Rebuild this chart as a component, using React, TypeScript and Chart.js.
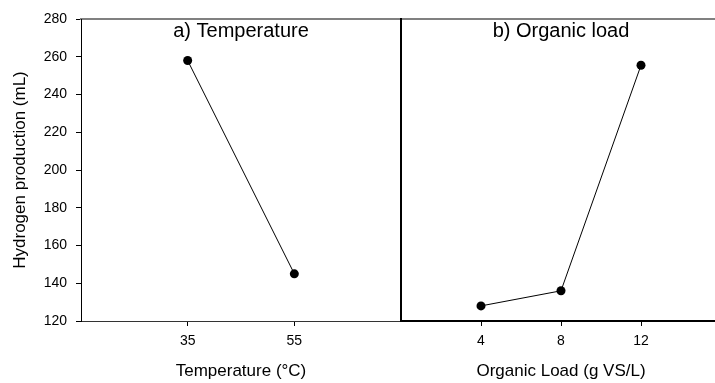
import React, { useEffect, useRef } from "react";
import { Chart, registerables } from "chart.js";

Chart.register(...registerables);

// ---- data ----
const yTicks = [120, 140, 160, 180, 200, 220, 240, 260, 280];
const tempCategories = [35, 55];
const tempValues = [258, 145];
const loadCategories = [4, 8, 12];
const loadValues = [128, 136, 255.5];

const FONT = "'Liberation Sans', Arial, Helvetica, sans-serif";

function panelTitlePlugin(text: string) {
  return {
    id: "panelTitle",
    afterDraw(chart: any) {
      const { ctx, chartArea } = chart;
      ctx.save();
      ctx.font = `20px ${FONT}`;
      ctx.fillStyle = "#000";
      ctx.textAlign = "center";
      ctx.textBaseline = "alphabetic";
      ctx.fillText(text, (chartArea.left + chartArea.right) / 2, 37);
      ctx.restore();
    },
  };
}

function makeConfig(opts: {
  xs: number[];
  ys: number[];
  xMin: number;
  xMax: number;
  xTitle: string;
  panel: string;
  left: boolean;
}): any {
  const { xs, ys, xMin, xMax, xTitle, panel, left } = opts;
  const yScale: any = left
    ? {
        type: "linear",
        position: "left",
        min: 120,
        max: 280,
        afterBuildTicks: (s: any) => {
          s.ticks = yTicks.map((v) => ({ value: v }));
        },
        ticks: { font: { family: FONT, size: 14 }, color: "#000", padding: 9 },
        grid: { drawOnChartArea: false, drawTicks: true, tickLength: 5, tickColor: "#000", tickWidth: 1 },
        border: { display: true, color: "#000", width: 1 },
        title: {
          display: true,
          text: "Hydrogen production (mL)",
          font: { family: FONT, size: 17 },
          color: "#000",
          padding: { top: 10, bottom: 0 },
        },
        afterFit: (s: any) => {
          s.width = 81;
        },
      }
    : {
        type: "linear",
        position: "left",
        min: 120,
        max: 280,
        ticks: { display: false },
        grid: { drawOnChartArea: false, drawTicks: false },
        border: { display: true, color: "#000", width: 2 },
        afterFit: (s: any) => {
          s.width = 0;
        },
      };
  return {
    type: "scatter",
    data: {
      datasets: [
        {
          data: xs.map((x, i) => ({ x, y: ys[i] })),
          showLine: true,
          borderColor: "#000",
          borderWidth: 1,
          pointRadius: 4.5,
          pointBackgroundColor: "#000",
          pointBorderColor: "#000",
          pointBorderWidth: 0,
          clip: false,
        },
      ],
    },
    options: {
      responsive: false,
      animation: false,
      events: [],
      layout: { autoPadding: false, padding: { left: left ? 0 : 1, right: 0, top: 19, bottom: 0 } },
      plugins: { legend: { display: false }, tooltip: { enabled: false }, title: { display: false } },
      scales: {
        x: {
          type: "linear",
          position: "bottom",
          min: xMin,
          max: xMax,
          afterBuildTicks: (s: any) => {
            s.ticks = xs.map((v) => ({ value: v }));
          },
          ticks: { font: { family: FONT, size: 14 }, color: "#000", padding: 7 },
          grid: { drawOnChartArea: false, drawTicks: true, tickLength: 5, tickColor: "#000", tickWidth: 1 },
          border: { display: true, color: left ? "#333" : "#000", width: left ? 1 : 2 },
          title: {
            display: true,
            text: xTitle,
            font: { family: FONT, size: 17 },
            color: "#000",
            padding: { top: 0, bottom: 1 },
          },
          afterFit: (s: any) => {
            s.height = 62;
          },
        },
        x2: {
          type: "linear",
          position: "top",
          min: xMin,
          max: xMax,
          ticks: { display: false },
          grid: { drawOnChartArea: false, drawTicks: false },
          border: { display: true, color: "#808080", width: 2 },
          afterFit: (s: any) => {
            s.height = 0;
          },
        },
        y: yScale,
      },
    },
    plugins: [panelTitlePlugin(panel)],
  };
}

export default function App() {
  const leftRef = useRef<HTMLCanvasElement | null>(null);
  const rightRef = useRef<HTMLCanvasElement | null>(null);

  useEffect(() => {
    const c1 = new Chart(
      leftRef.current as HTMLCanvasElement,
      makeConfig({
        xs: tempCategories,
        ys: tempValues,
        xMin: 15,
        xMax: 75,
        xTitle: "Temperature (°C)",
        panel: "a) Temperature",
        left: true,
      })
    );
    const c2 = new Chart(
      rightRef.current as HTMLCanvasElement,
      makeConfig({
        xs: loadCategories,
        ys: loadValues,
        xMin: 0,
        xMax: 16,
        xTitle: "Organic Load (g VS/L)",
        panel: "b) Organic load",
        left: false,
      })
    );
    return () => {
      c1.destroy();
      c2.destroy();
    };
  }, []);

  return (
    <div
      style={{
        position: "fixed",
        left: 0,
        top: 0,
        width: 715,
        height: 383,
        overflow: "hidden",
        background: "#fff",
      }}
    >
      <canvas
        ref={leftRef}
        width={401}
        height={383}
        style={{ position: "absolute", left: 0, top: 0, width: 401, height: 383, display: "block" }}
      />
      <canvas
        ref={rightRef}
        width={321}
        height={383}
        style={{ position: "absolute", left: 400, top: 0, width: 321, height: 383, display: "block" }}
      />
    </div>
  );
}
